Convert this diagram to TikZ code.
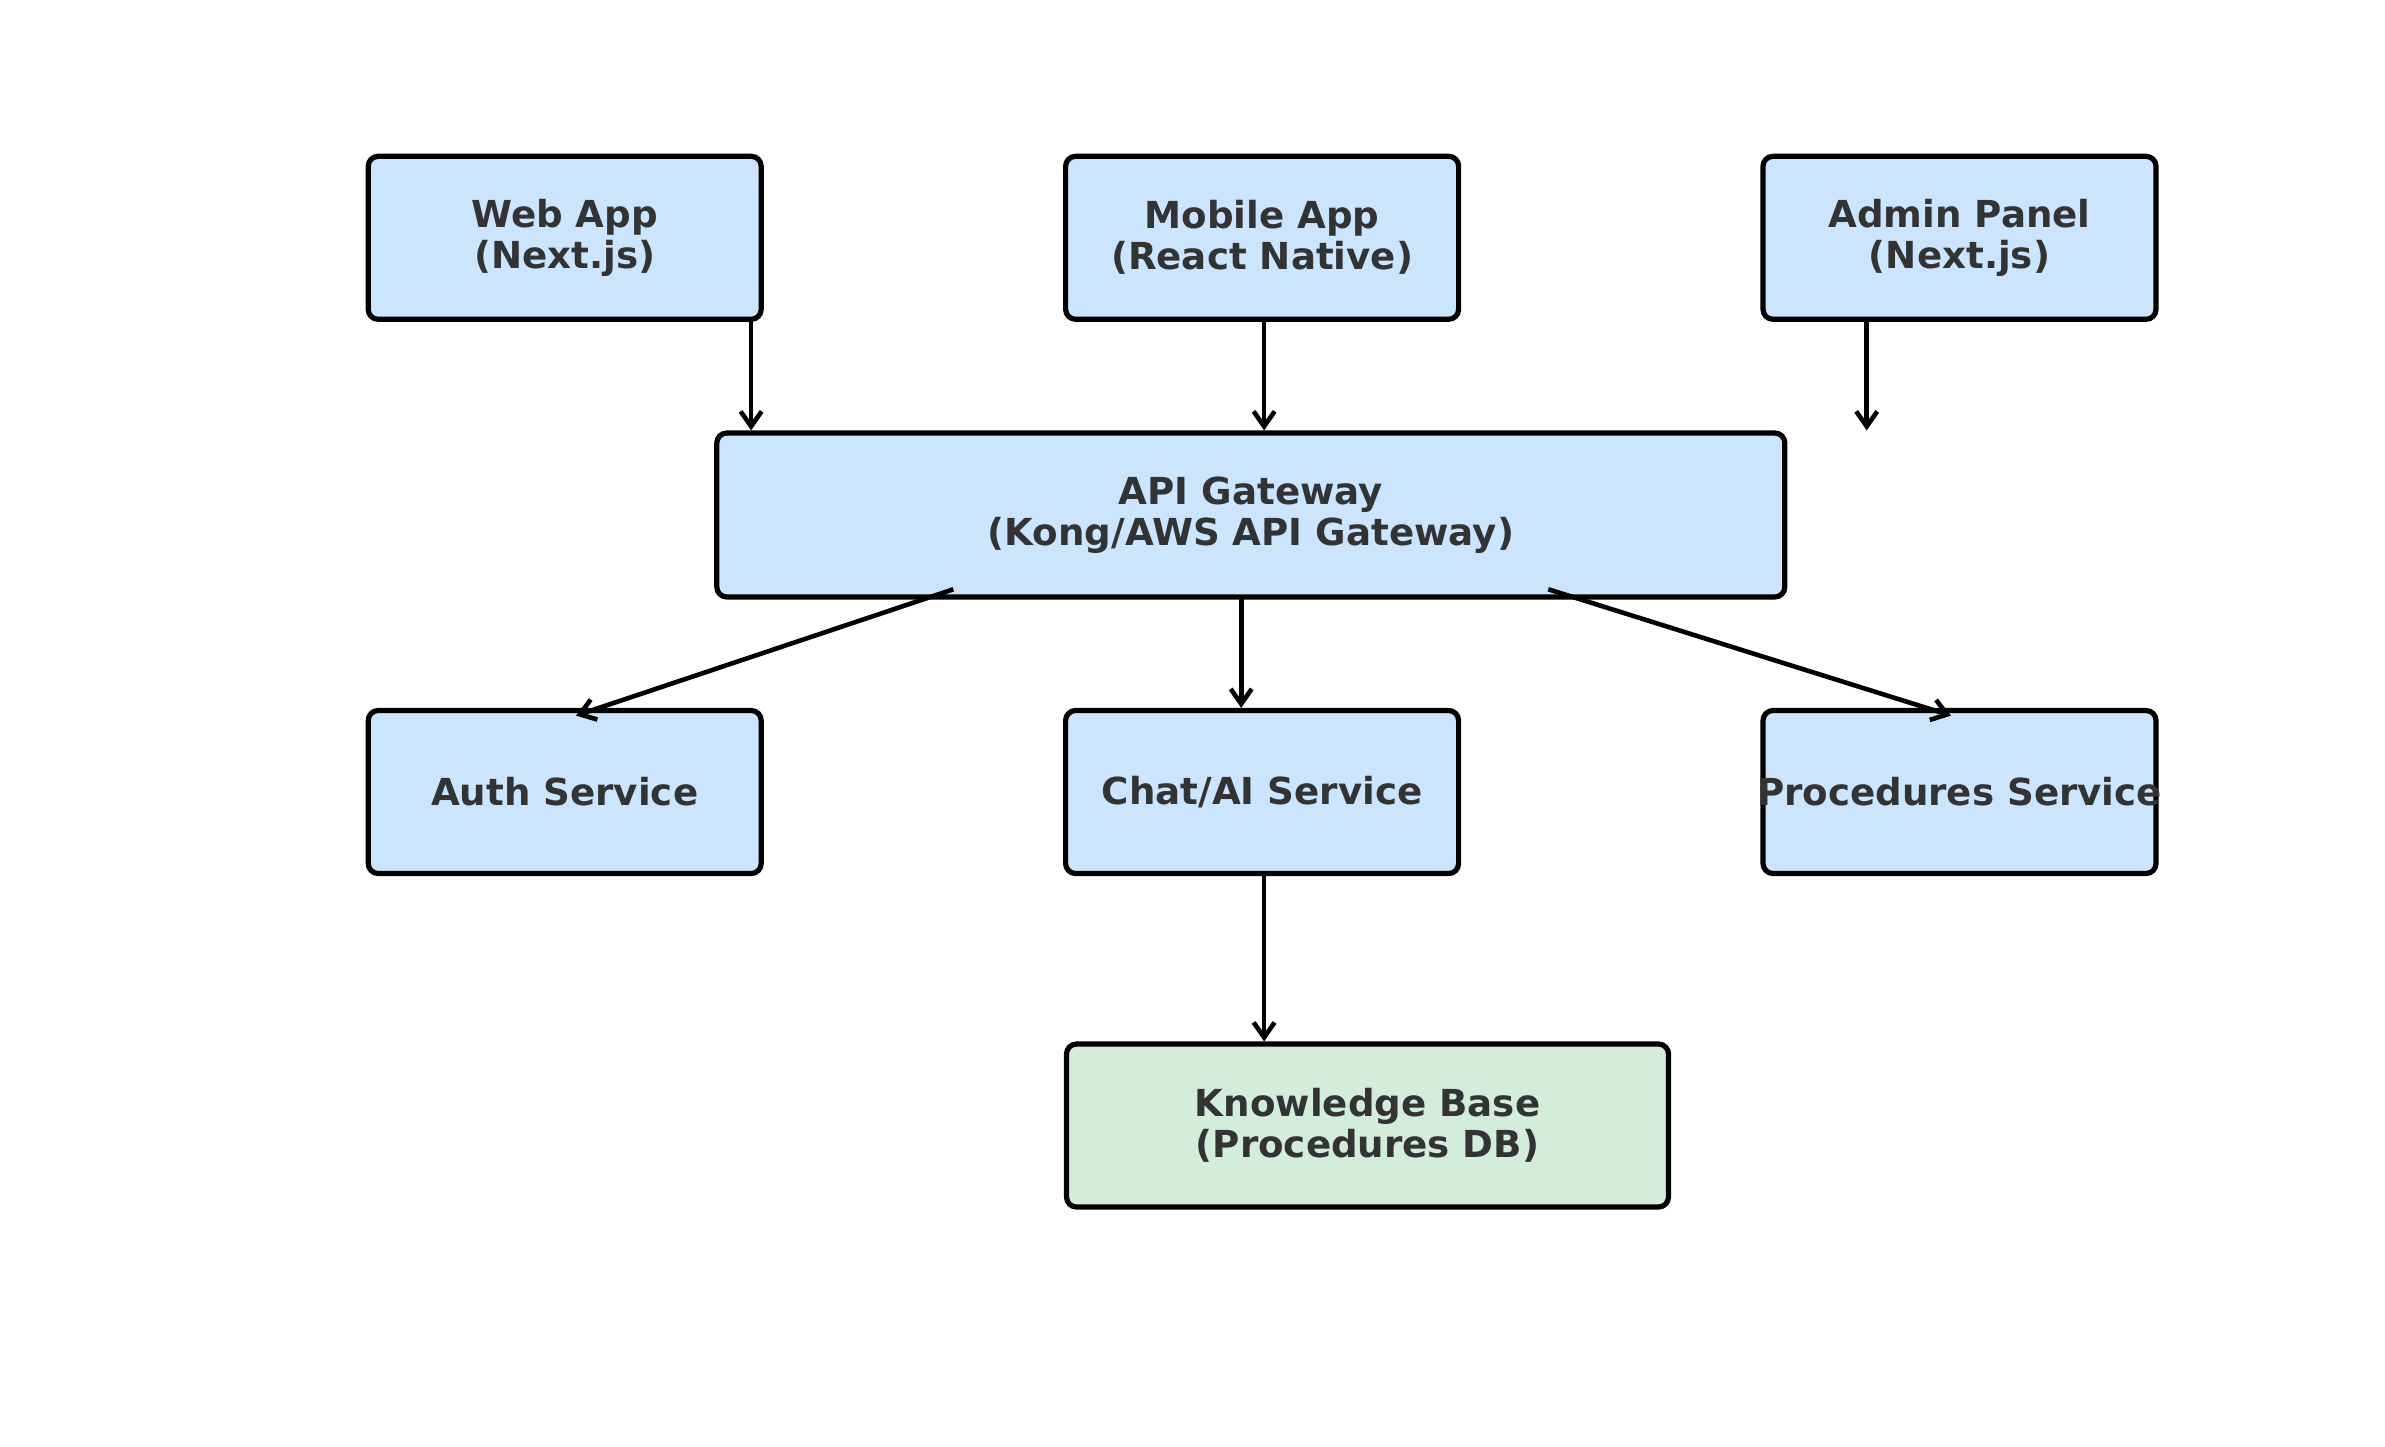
\documentclass[tikz,border=0pt]{standalone}
\usepackage{fontspec}
\setmainfont{DejaVu Sans}
\usetikzlibrary{arrows.meta,calc}
\definecolor{boxblue}{HTML}{CCE5FF}
\definecolor{boxgreen}{HTML}{D4EDDA}
\definecolor{txtgray}{HTML}{333333}
\begin{document}
\begin{tikzpicture}[x=0.5pt,y=-0.5pt,
  box/.style={draw=black, line width=2.6pt, rounded corners=5pt, fill=boxblue,
    inner sep=0pt, minimum height=81.5pt, minimum width=196.5pt},
  txt/.style={text=txtgray, font=\fontsize{18.6}{20.5}\selectfont\bfseries, align=center, inner sep=0pt},
  arr/.style={draw=black, line width=2.3pt, -{Straight Barb[length=7.5pt,width=10.5pt,line width=2.3pt]}}
]
\useasboundingbox (0,0) rectangle (2385,1446);
% top row
\node[box, label={[txt]center:{Web App\\(Next.js)}}] (web) at (564.7,237.8) {};
\node[box, label={[txt]center:{Mobile App\\(React Native)}}] (mobile) at (1262.1,237.8) {};
\node[box, label={[txt]center:{Admin Panel\\(Next.js)}}] (admin) at (1959.5,237.8) {};
% gateway
\node[box, minimum width=534pt, minimum height=82pt, label={[txt]center:{API Gateway\\(Kong/AWS API Gateway)}}] (api) at (1250.8,515) {};
% services
\node[box, label={[txt]center:{Auth Service}}] (auth) at (564.7,792) {};
\node[box, label={[txt]center:{Chat/AI Service}}] (chat) at (1262.1,792) {};
\node[box, label={[txt]center:{Procedures Service}}] (proc) at (1959.5,792) {};
% knowledge base
\node[box, fill=boxgreen, minimum width=301pt, label={[txt]center:{Knowledge Base\\(Procedures DB)}}] (kb) at (1367.5,1125.5) {};
% connectors
\draw[arr] ([xshift=93.2pt,yshift=1.5pt]web.south) coordinate (w1) -- (w1 |- api.north);
\draw[arr] ([xshift=1pt,yshift=1.5pt]mobile.south) coordinate (m1) -- (m1 |- api.north);
\draw[arr] ([xshift=-46.4pt,yshift=1.5pt]admin.south) coordinate (a1) -- (a1 |- api.north) coordinate (a2);
\draw[arr] ([xshift=-148.75pt,yshift=5.15pt]api.south) -- ([xshift=5.65pt,yshift=-3.85pt]auth.north);
\draw[arr] ([xshift=-4.8pt,yshift=2.25pt]api.south) coordinate (g1) -- (g1 |- chat.north);
\draw[arr] ([xshift=148.75pt,yshift=5.15pt]api.south) -- ([xshift=-4.25pt,yshift=-3.85pt]proc.north);
\draw[arr] ([xshift=1pt,yshift=1.2pt]chat.south) coordinate (c1) -- (c1 |- kb.north);
\end{tikzpicture}
\end{document}
